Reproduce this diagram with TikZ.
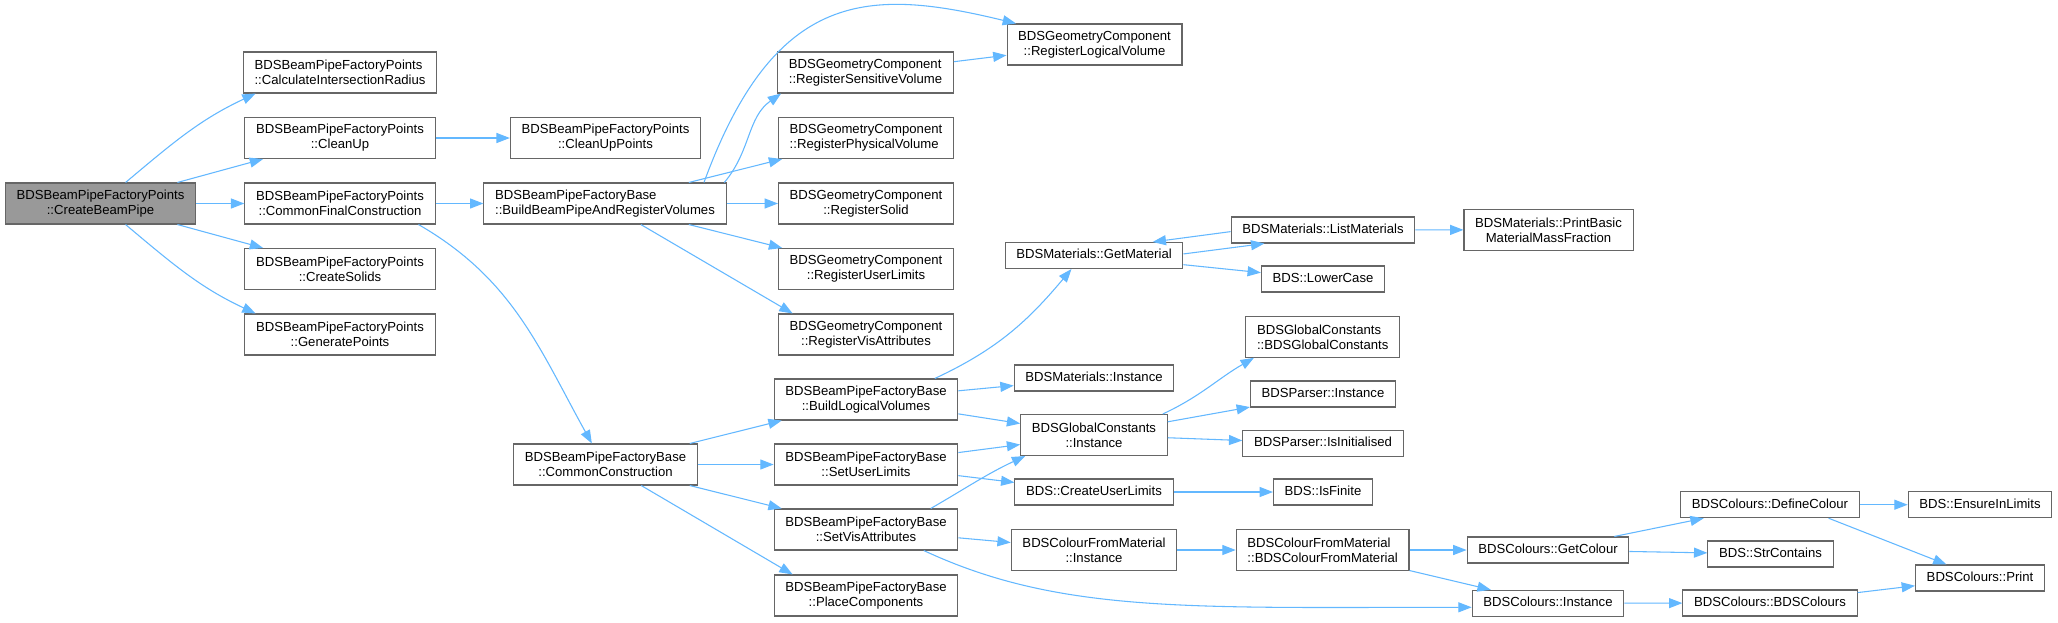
\documentclass[tikz,border=0pt]{standalone}
\usepackage{fontspec}
\setmainfont{Liberation Sans}
\usetikzlibrary{arrows.meta}
\definecolor{callblue}{HTML}{63B8FF}
\definecolor{boxgray}{HTML}{666666}
\definecolor{rootgray}{HTML}{999999}
\begin{document}
\begin{tikzpicture}[x=0.75pt,y=0.75pt,
		box/.style={draw=boxgray,line width=0.8pt,fill=white,inner xsep=8.4pt,inner ysep=1pt,font=\fontsize{9.85}{11.25}\selectfont},
		fn/.style={box,minimum height=30.75pt,align=center},
		fnl/.style={box,minimum height=30.75pt,align=left},
		one/.style={box,minimum height=19.5pt,text height=7.2pt,text depth=2.1pt},
		root/.style={fn,fill=rootgray},
		call/.style={draw=callblue,line width=0.8pt,-{Triangle[length=10pt,width=7.5pt]}}]
	\path [use as bounding box,fill=white] (0,0) rectangle (2058,-622);
	\node [root] (cbp) at (100.5,-203.5) {BDSBeamPipeFactoryPoints\\::CreateBeamPipe};
	\node [fnl] (cir) at (340,-72.5) {BDSBeamPipeFactoryPoints\\::CalculateIntersectionRadius};
	\node [fn] (cup) at (340,-138) {BDSBeamPipeFactoryPoints\\::CleanUp};
	\node [fn] (cfc) at (340,-203.5) {BDSBeamPipeFactoryPoints\\::CommonFinalConstruction};
	\node [fn] (csd) at (340,-269) {BDSBeamPipeFactoryPoints\\::CreateSolids};
	\node [fn] (gpt) at (340,-334.5) {BDSBeamPipeFactoryPoints\\::GeneratePoints};
	\node [fn] (cupp) at (605.5,-138) {BDSBeamPipeFactoryPoints\\::CleanUpPoints};
	\node [fnl] (bbp) at (605,-203.5) {BDSBeamPipeFactoryBase\\::BuildBeamPipeAndRegisterVolumes};
	\node [fn] (cco) at (605.5,-464.5) {BDSBeamPipeFactoryBase\\::CommonConstruction};
	\node [fnl] (rsv) at (865.5,-72.5) {BDSGeometryComponent\\::RegisterSensitiveVolume};
	\node [fnl] (rpv) at (866,-138) {BDSGeometryComponent\\::RegisterPhysicalVolume};
	\node [fn] (rso) at (866,-203.5) {BDSGeometryComponent\\::RegisterSolid};
	\node [fn] (rul) at (866,-269) {BDSGeometryComponent\\::RegisterUserLimits};
	\node [fn] (rva) at (866,-334.5) {BDSGeometryComponent\\::RegisterVisAttributes};
	\node [fn] (blv) at (866,-399.5) {BDSBeamPipeFactoryBase\\::BuildLogicalVolumes};
	\node [fn] (sul) at (866,-464.5) {BDSBeamPipeFactoryBase\\::SetUserLimits};
	\node [fn] (sva) at (866,-529.5) {BDSBeamPipeFactoryBase\\::SetVisAttributes};
	\node [fn] (pco) at (866,-595.5) {BDSBeamPipeFactoryBase\\::PlaceComponents};
	\node [fn] (rlv) at (1094.5,-44.5) {BDSGeometryComponent\\::RegisterLogicalVolume};
	\node [one] (gmat) at (1094,-255.5) {BDSMaterials::GetMaterial};
	\node [one] (minst) at (1094,-378) {BDSMaterials::Instance};
	\node [fn] (gci) at (1094,-435) {BDSGlobalConstants\\::Instance};
	\node [one] (cul) at (1094,-492) {BDS::CreateUserLimits};
	\node [fn] (cfmi) at (1094,-550) {BDSColourFromMaterial\\::Instance};
	\node [one] (lmat) at (1323,-230) {BDSMaterials::ListMaterials};
	\node [one] (lowc) at (1323,-279) {BDS::LowerCase};
	\node [fnl] (bgc) at (1322.7,-336.8) {BDSGlobalConstants\\::BDSGlobalConstants};
	\node [one] (pinst) at (1323,-394) {BDSParser::Instance};
	\node [one] (pini) at (1323,-443.5) {BDSParser::IsInitialised};
	\node [one] (isf) at (1323,-492) {BDS::IsFinite};
	\node [fnl] (bcfm) at (1322.6,-550) {BDSColourFromMaterial\\::BDSColourFromMaterial};
	\node [fn] (pbm) at (1548.5,-229.8) {BDSMaterials::PrintBasic\\MaterialMassFraction};
	\node [one] (gcol) at (1548,-550) {BDSColours::GetColour};
	\node [one] (cins) at (1548,-603.3) {BDSColours::Instance};
	\node [one] (dcol) at (1770,-504.7) {BDSColours::DefineColour};
	\node [one] (strc) at (1770.5,-554) {BDS::StrContains};
	\node [one] (bcol) at (1770,-603) {BDSColours::BDSColours};
	\node [one] (eil) at (1980,-504.7) {BDS::EnsureInLimits};
	\node [one] (prt) at (1980,-578) {BDSColours::Print};
	\draw [call] (cbp.40) to [out=40,in=205] (cir.194);
	\draw [call] (cbp) to (cup);
	\draw [call] (cbp) to (cfc);
	\draw [call] (cbp) to (csd);
	\draw [call] (cbp.-40) to [out=-40,in=155] (gpt.166);
	\draw [call] (cup) to (cupp);
	\draw [call] (cfc) to (bbp);
	\draw [call] (cfc.-15) to [out=-30,in=119] (cco.123);
	\draw [call] (bbp.12) .. controls (775,12) and (870,12) .. (rlv.165);
	\draw [call] (bbp.10.5) to [out=50,in=215] (rsv.194);
	\draw [call] (bbp) to (rpv);
	\draw [call] (bbp) to (rso);
	\draw [call] (bbp) to (rul);
	\draw [call] (bbp) to (rva.164);
	\draw [call] (rsv) to (rlv);
	\draw [call] (cco) to (blv);
	\draw [call] (cco) to (sul);
	\draw [call] (cco) to (sva);
	\draw [call] (cco) to (pco.164);
	\draw [call] (blv.17) to [out=25,in=230] (gmat.211);
	\draw [call] (blv) to (minst);
	\draw [call] (blv) to (gci);
	\draw [call] (sul) to (gci);
	\draw [call] (sul) to (cul);
	\draw [call] (sva.18) to [out=30,in=205] (gci.197);
	\draw [call] (sva) to (cfmi);
	\draw [call] (sva.-20) .. controls +(-25:150) and +(180:280) .. (cins.183);
	\draw [call] (gmat.1) to (lmat.193);
	\draw [call] (lmat.181) to (gmat.13);
	\draw [call] (gmat) to (lowc);
	\draw [call] (lmat) to (pbm);
	\draw [call] (gci.17) to [out=25,in=210] (bgc.197);
	\draw [call] (gci) to (pinst);
	\draw [call] (gci) to (pini);
	\draw [call] (cul) to (isf);
	\draw [call] (cfmi) to (bcfm);
	\draw [call] (bcfm) to (gcol);
	\draw [call] (bcfm) to (cins);
	\draw [call] (gcol) to (dcol);
	\draw [call] (gcol) to (strc);
	\draw [call] (dcol) to (eil);
	\draw [call] (dcol.-13) to (prt.158);
	\draw [call] (cins) to (bcol);
	\draw [call] (bcol) to (prt);
\end{tikzpicture}
\end{document}
